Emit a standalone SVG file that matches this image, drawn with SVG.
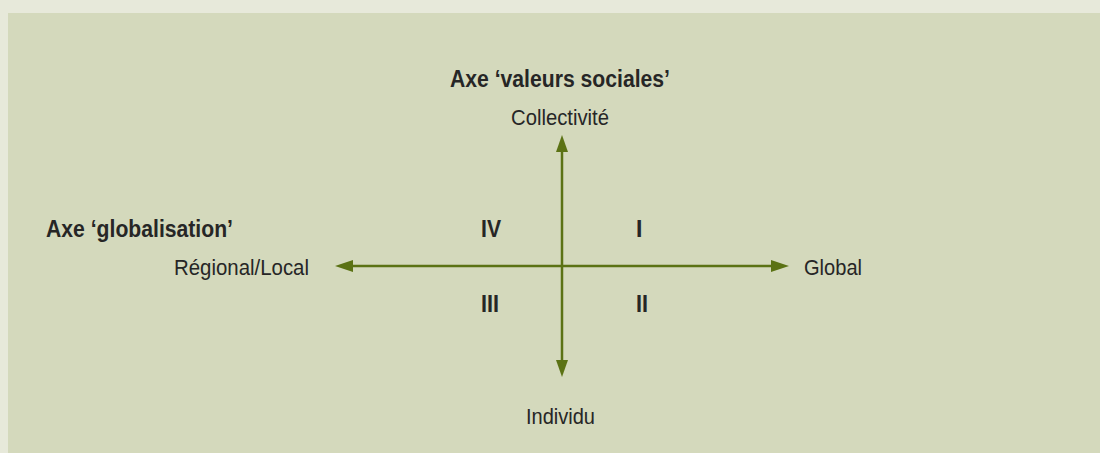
<svg xmlns="http://www.w3.org/2000/svg" width="1100" height="453" viewBox="0 0 1100 453">
<defs>
<style>
.t{font-family:"Liberation Sans",Arial,sans-serif;fill:#262626;font-size:21.5px}
.b{font-weight:bold;font-size:23px}
.ax{stroke:#5b7214;stroke-width:2.5;fill:none}
.hd{fill:#5b7214}
</style>
</defs>
<rect x="0" y="0" width="1100" height="453" fill="#e7e9da"/>
<rect x="8" y="13" width="1092" height="440" fill="#d4d9bc"/>
<g id="connectors">
<line class="ax" x1="562" y1="150" x2="562" y2="362"/>
<polygon class="hd" points="562,135 556,152 568,152"/>
<polygon class="hd" points="562,377 556,360 568,360"/>
<line class="ax" x1="350" y1="266" x2="774" y2="266"/>
<polygon class="hd" points="335,266 353,260 353,272"/>
<polygon class="hd" points="789,266 771,260 771,272"/>
</g>
<g id="axis-social">
<text class="t b" x="450" y="87" textLength="220" lengthAdjust="spacingAndGlyphs">Axe ‘valeurs sociales’</text>
</g>
<g id="collectivite"><text class="t" x="511" y="125" textLength="98" lengthAdjust="spacingAndGlyphs">Collectivité</text></g>
<g id="individu"><text class="t" x="526" y="424" textLength="69" lengthAdjust="spacingAndGlyphs">Individu</text></g>
<g id="axis-global"><text class="t b" x="46" y="237" textLength="187" lengthAdjust="spacingAndGlyphs">Axe ‘globalisation’</text></g>
<g id="regional"><text class="t" x="174" y="275" textLength="135" lengthAdjust="spacingAndGlyphs">Régional/Local</text></g>
<g id="global"><text class="t" x="804" y="275" textLength="58" lengthAdjust="spacingAndGlyphs">Global</text></g>
<g id="q4"><text class="t b" x="481" y="237" textLength="20" lengthAdjust="spacingAndGlyphs">IV</text></g>
<g id="q1"><text class="t b" x="636" y="237">I</text></g>
<g id="q3"><text class="t b" x="481" y="312" textLength="18" lengthAdjust="spacingAndGlyphs">III</text></g>
<g id="q2"><text class="t b" x="636" y="312" textLength="12" lengthAdjust="spacingAndGlyphs">II</text></g>
</svg>
